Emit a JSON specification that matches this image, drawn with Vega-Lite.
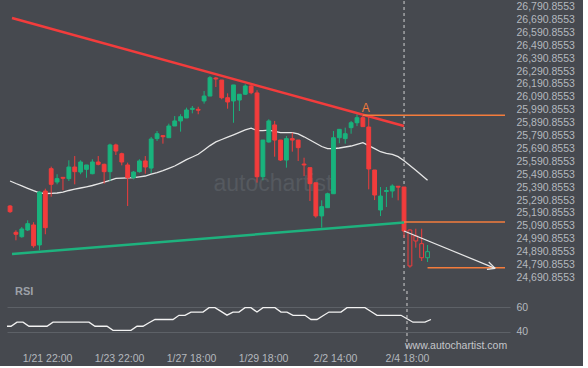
{
"$schema": "https://vega.github.io/schema/vega-lite/v6.json",
"background": "#46494f",
"padding": {"left": 7, "top": 0, "right": 8, "bottom": 2},
"spacing": 0,
"bounds": "flush",
"config": {"view": {"stroke": null}, "axis": {"labelFont": "Liberation Sans", "labelFontSize": 10.5, "labelColor": "#b4b8be", "domain": false, "ticks": false, "labelOverlap": false}},
"datasets": {
"candles": [
{"i":-1,"o":25245,"h":25253,"l":25191,"c":25201,"ma":25438.7,"rsi":44.4},
{"i":0,"o":25041,"h":25057,"l":24979,"c":25026,"ma":25419.3,"rsi":44.4},
{"i":1,"o":25007,"h":25082,"l":24999,"c":25067,"ma":25401.5,"rsi":47.7},
{"i":2,"o":25059,"h":25134,"l":25051,"c":25108,"ma":25382.1,"rsi":47.7},
{"i":3,"o":25098,"h":25119,"l":24922,"c":24937,"ma":25363.5,"rsi":44.4},
{"i":4,"o":24943,"h":25361,"l":24902,"c":25353,"ma":25346.5,"rsi":44.4},
{"i":5,"o":25361,"h":25379,"l":25026,"c":25077,"ma":25341.8,"rsi":44.4},
{"i":6,"o":25534,"h":25550,"l":25317,"c":25413,"ma":25342.6,"rsi":44.4},
{"i":7,"o":25431,"h":25491,"l":25413,"c":25457,"ma":25345.7,"rsi":47.7},
{"i":8,"o":25467,"h":25470,"l":25367,"c":25460,"ma":25351.9,"rsi":47.7},
{"i":9,"o":25457,"h":25599,"l":25439,"c":25547,"ma":25365.1,"rsi":47.7},
{"i":10,"o":25547,"h":25632,"l":25413,"c":25511,"ma":25375.1,"rsi":47.7},
{"i":11,"o":25508,"h":25599,"l":25491,"c":25586,"ma":25384.4,"rsi":47.7},
{"i":12,"o":25529,"h":25563,"l":25464,"c":25563,"ma":25393.7,"rsi":47.7},
{"i":13,"o":25495,"h":25607,"l":25491,"c":25586,"ma":25403.8,"rsi":47.7},
{"i":14,"o":25586,"h":25632,"l":25560,"c":25568,"ma":25416.2,"rsi":44.4},
{"i":15,"o":25568,"h":25573,"l":25418,"c":25511,"ma":25429.4,"rsi":44.4},
{"i":16,"o":25511,"h":25728,"l":25439,"c":25718,"ma":25444.1,"rsi":44.4},
{"i":17,"o":25718,"h":25728,"l":25640,"c":25671,"ma":25459.6,"rsi":41.1},
{"i":18,"o":25650,"h":25658,"l":25560,"c":25586,"ma":25461.1,"rsi":41.1},
{"i":19,"o":25563,"h":25581,"l":25245,"c":25464,"ma":25462.7,"rsi":41.1},
{"i":20,"o":25464,"h":25516,"l":25452,"c":25508,"ma":25465.0,"rsi":41.1},
{"i":21,"o":25511,"h":25607,"l":25503,"c":25594,"ma":25471.2,"rsi":44.4},
{"i":22,"o":25594,"h":25632,"l":25495,"c":25547,"ma":25477.4,"rsi":44.4},
{"i":23,"o":25539,"h":25780,"l":25501,"c":25764,"ma":25491.4,"rsi":47.2},
{"i":24,"o":25767,"h":25826,"l":25749,"c":25805,"ma":25504.5,"rsi":49.9},
{"i":25,"o":25790,"h":25795,"l":25728,"c":25782,"ma":25519.3,"rsi":49.9},
{"i":26,"o":25774,"h":25883,"l":25774,"c":25865,"ma":25537.1,"rsi":49.9},
{"i":27,"o":25865,"h":25942,"l":25865,"c":25904,"ma":25554.9,"rsi":49.9},
{"i":28,"o":25904,"h":25956,"l":25821,"c":25937,"ma":25578.9,"rsi":53.3},
{"i":29,"o":25927,"h":26007,"l":25927,"c":25989,"ma":25603.7,"rsi":53.3},
{"i":30,"o":25994,"h":26020,"l":25963,"c":26002,"ma":25624.7,"rsi":55.9},
{"i":31,"o":25994,"h":26014,"l":25956,"c":25987,"ma":25645.6,"rsi":55.9},
{"i":32,"o":26059,"h":26136,"l":26038,"c":26097,"ma":25678.9,"rsi":55.9},
{"i":33,"o":26097,"h":26252,"l":26097,"c":26239,"ma":25713.0,"rsi":59.5},
{"i":34,"o":26237,"h":26245,"l":26167,"c":26229,"ma":25741.7,"rsi":59.5},
{"i":35,"o":26221,"h":26221,"l":26072,"c":26084,"ma":25760.3,"rsi":56.5},
{"i":36,"o":26084,"h":26118,"l":25999,"c":26051,"ma":25778.1,"rsi":53.4},
{"i":37,"o":26059,"h":26183,"l":25890,"c":26183,"ma":25796.7,"rsi":55.9},
{"i":38,"o":26066,"h":26111,"l":25981,"c":26111,"ma":25816.1,"rsi":55.9},
{"i":39,"o":26111,"h":26188,"l":26105,"c":26175,"ma":25835.5,"rsi":59.5},
{"i":40,"o":26175,"h":26188,"l":26111,"c":26123,"ma":25848.6,"rsi":59.5},
{"i":41,"o":26121,"h":26142,"l":25426,"c":25472,"ma":25829.3,"rsi":55.9},
{"i":42,"o":25472,"h":25756,"l":25444,"c":25756,"ma":25829.3,"rsi":59.5},
{"i":43,"o":25741,"h":25917,"l":25736,"c":25904,"ma":25833.1,"rsi":59.5},
{"i":44,"o":25873,"h":25904,"l":25627,"c":25756,"ma":25823.1,"rsi":59.5},
{"i":45,"o":25756,"h":25756,"l":25594,"c":25601,"ma":25813.0,"rsi":55.9},
{"i":46,"o":25601,"h":25787,"l":25542,"c":25767,"ma":25813.0,"rsi":55.9},
{"i":47,"o":25767,"h":25813,"l":25666,"c":25756,"ma":25813.0,"rsi":53.3},
{"i":48,"o":25756,"h":25756,"l":25594,"c":25697,"ma":25804.4,"rsi":53.3},
{"i":49,"o":25570,"h":25619,"l":25477,"c":25563,"ma":25781.2,"rsi":53.3},
{"i":50,"o":25542,"h":25542,"l":25284,"c":25418,"ma":25756.4,"rsi":49.9},
{"i":51,"o":25425,"h":25425,"l":25154,"c":25168,"ma":25731.6,"rsi":49.9},
{"i":52,"o":25168,"h":25289,"l":25077,"c":25240,"ma":25706.1,"rsi":52.9},
{"i":53,"o":25232,"h":25348,"l":25232,"c":25340,"ma":25689.0,"rsi":55.9},
{"i":54,"o":25340,"h":25826,"l":25340,"c":25774,"ma":25689.0,"rsi":55.9},
{"i":55,"o":25774,"h":25839,"l":25731,"c":25839,"ma":25694.4,"rsi":55.9},
{"i":56,"o":25767,"h":25852,"l":25728,"c":25805,"ma":25702.2,"rsi":59.5},
{"i":57,"o":25852,"h":25904,"l":25805,"c":25890,"ma":25709.9,"rsi":59.5},
{"i":58,"o":25890,"h":25956,"l":25864,"c":25929,"ma":25723.1,"rsi":59.5},
{"i":59,"o":25929,"h":25956,"l":25860,"c":25860,"ma":25735.5,"rsi":59.5},
{"i":60,"o":25857,"h":25942,"l":25374,"c":25532,"ma":25712.2,"rsi":56.4},
{"i":61,"o":25524,"h":25524,"l":25291,"c":25330,"ma":25689.0,"rsi":53.3},
{"i":62,"o":25214,"h":25392,"l":25167,"c":25322,"ma":25665.7,"rsi":53.3},
{"i":63,"o":25357,"h":25392,"l":25237,"c":25365,"ma":25652.6,"rsi":53.3},
{"i":64,"o":25361,"h":25413,"l":25309,"c":25400,"ma":25644.8,"rsi":53.3},
{"i":65,"o":25398,"h":25400,"l":25289,"c":25391,"ma":25627.0,"rsi":53.3},
{"i":66,"o":25392,"h":25392,"l":24999,"c":25051,"ma":25595.2,"rsi":50.5},
{"i":67,"o":25059,"h":25064,"l":24767,"c":24780,"ma":25558.8,"rsi":47.7,"f":true},
{"i":68,"o":25013,"h":25069,"l":24922,"c":24974,"ma":25521.6,"rsi":47.7,"f":true},
{"i":69,"o":24953,"h":25069,"l":24819,"c":24844,"ma":25482.8,"rsi":47.7,"f":true},
{"i":70,"o":24844,"h":24943,"l":24811,"c":24891,"ma":25444.1,"rsi":49.9,"f":true}
],
"lines": [
{"name":"res","i":-0.667,"v":26701.7},{"name":"res","i":66,"v":25864.8},
{"name":"sup","i":-0.667,"v":24873},{"name":"sup","i":66,"v":25117},
{"name":"lvlA","i":59,"v":25947.8},{"name":"lvlA","i":83.17,"v":25947.8},
{"name":"lvlB","i":66,"v":25121},{"name":"lvlB","i":83.17,"v":25121},
{"name":"lvlC","i":70,"v":24767},{"name":"lvlC","i":83.17,"v":24767},
{"name":"proj","i":66,"v":25051},{"name":"proj","i":81.5,"v":24762},
{"name":"head1","i":80.4,"v":24811},{"name":"head1","i":81.5,"v":24762},
{"name":"head2","i":80.1,"v":24754},{"name":"head2","i":81.5,"v":24762}
]
},
"vconcat": [
{
"width": 503, "height": 290,
"layer": [
{"data": {"name": "candles"}, "mark": {"type": "line", "color": "#e6e6e6", "strokeWidth": 1.3, "clip": true},
 "encoding": {
   "x": {"field": "i", "type": "quantitative", "scale": {"domain": [-0.667, 83.17], "nice": false, "zero": false}, "axis": null},
   "y": {"field": "ma", "type": "quantitative", "scale": {"domain": [24586.3, 26833.5], "nice": false, "zero": false},
   "axis": {"orient": "right", "title": null, "labelPadding": 6, "labelOverlap": false, "labelFlush": false, "tickCount": 30, "grid": true, "gridOpacity": 0, "format": ",.4f", "values": [24690.8553,24790.8553,24890.8553,24990.8553,25090.8553,25190.8553,25290.8553,25390.8553,25490.8553,25590.8553,25690.8553,25790.8553,25890.8553,25990.8553,26090.8553,26190.8553,26290.8553,26390.8553,26490.8553,26590.8553,26690.8553,26790.8553]}}}},
{"data": {"values": [{}]}, "mark": {"type": "text", "text": "autochartist", "font": "Liberation Sans", "fontSize": 23, "color": "#55595f", "align": "center", "baseline": "alphabetic"},
 "encoding": {"x": {"datum": 43.7, "type": "quantitative", "scale": {"domain": [-0.667, 83.17], "nice": false, "zero": false}, "axis": null}, "y": {"datum": 25361, "type": "quantitative", "scale": {"domain": [24586.3, 26833.5], "nice": false, "zero": false}}}},
{"data": {"name": "candles"}, "transform": [{"filter": "datum.i == 66"}], "mark": {"type": "rule", "color": "#d0d0d0", "strokeDash": [3, 3], "strokeWidth": 1},
 "encoding": {"x": {"field": "i", "type": "quantitative", "scale": {"domain": [-0.667, 83.17], "nice": false, "zero": false}, "axis": null}}},
{"data": {"name": "candles"}, "mark": {"type": "rule", "strokeWidth": 1, "clip": true},
 "encoding": {"x": {"field": "i", "type": "quantitative", "scale": {"domain": [-0.667, 83.17], "nice": false, "zero": false}, "axis": null}, "y": {"field": "l", "type": "quantitative", "scale": {"domain": [24586.3, 26833.5], "nice": false, "zero": false}}, "y2": {"field": "h"},
   "color": {"condition": {"test": "datum.c >= datum.o", "value": "#19b37d"}, "value": "#f23c3c"}}},
{"data": {"name": "candles"}, "mark": {"type": "bar", "width": 3.8, "strokeWidth": 1, "clip": true},
 "encoding": {"x": {"field": "i", "type": "quantitative", "scale": {"domain": [-0.667, 83.17], "nice": false, "zero": false}, "axis": null}, "y": {"field": "o", "type": "quantitative", "scale": {"domain": [24586.3, 26833.5], "nice": false, "zero": false}}, "y2": {"field": "c"},
   "fill": {"condition": [{"test": "datum.f", "value": "#46494f"}, {"test": "datum.c >= datum.o", "value": "#19b37d"}], "value": "#f23c3c"},
   "stroke": {"condition": {"test": "datum.c >= datum.o", "value": "#19b37d"}, "value": "#f23c3c"}}},
{"data": {"name": "lines"}, "transform": [{"filter": "datum.name == 'res'"}], "mark": {"type": "line", "color": "#f23c3c", "strokeWidth": 2.5, "clip": true},
 "encoding": {"x": {"field": "i", "type": "quantitative", "scale": {"domain": [-0.667, 83.17], "nice": false, "zero": false}, "axis": null}, "y": {"field": "v", "type": "quantitative", "scale": {"domain": [24586.3, 26833.5], "nice": false, "zero": false}}}},
{"data": {"name": "lines"}, "transform": [{"filter": "datum.name == 'sup'"}], "mark": {"type": "line", "color": "#1eb27e", "strokeWidth": 2.5, "clip": true},
 "encoding": {"x": {"field": "i", "type": "quantitative", "scale": {"domain": [-0.667, 83.17], "nice": false, "zero": false}, "axis": null}, "y": {"field": "v", "type": "quantitative", "scale": {"domain": [24586.3, 26833.5], "nice": false, "zero": false}}}},
{"data": {"name": "lines"}, "transform": [{"filter": "indexof(['lvlA','lvlB','lvlC'], datum.name) >= 0"}], "mark": {"type": "line", "color": "#f47c3c", "strokeWidth": 1.5, "clip": true},
 "encoding": {"x": {"field": "i", "type": "quantitative", "scale": {"domain": [-0.667, 83.17], "nice": false, "zero": false}, "axis": null}, "y": {"field": "v", "type": "quantitative", "scale": {"domain": [24586.3, 26833.5], "nice": false, "zero": false}}, "detail": {"field": "name"}}},
{"data": {"name": "lines"}, "transform": [{"filter": "indexof(['proj','head1','head2'], datum.name) >= 0"}], "mark": {"type": "line", "color": "#e8e8e8", "strokeWidth": 1.2, "clip": true},
 "encoding": {"x": {"field": "i", "type": "quantitative", "scale": {"domain": [-0.667, 83.17], "nice": false, "zero": false}, "axis": null}, "y": {"field": "v", "type": "quantitative", "scale": {"domain": [24586.3, 26833.5], "nice": false, "zero": false}}, "detail": {"field": "name"}}},
{"data": {"name": "lines"}, "transform": [{"filter": "datum.name == 'lvlA' && datum.i == 59"}], "mark": {"type": "text", "text": "A", "font": "Liberation Sans", "fontSize": 12, "color": "#f07a3c", "align": "center", "baseline": "middle", "dx": 3, "dy": -7},
 "encoding": {"x": {"field": "i", "type": "quantitative", "scale": {"domain": [-0.667, 83.17], "nice": false, "zero": false}, "axis": null}, "y": {"field": "v", "type": "quantitative", "scale": {"domain": [24586.3, 26833.5], "nice": false, "zero": false}}}}
]
},
{
"width": 503, "height": 60,
"layer": [
{"data": {"name": "candles"}, "mark": {"type": "line", "color": "#f2f2f2", "strokeWidth": 1.3, "clip": true},
 "encoding": {
   "x": {"field": "i", "type": "quantitative", "scale": {"domain": [-0.667, 83.17], "nice": false, "zero": false},
     "axis": {"title": null, "values": [6, 18, 30, 42, 54, 66], "grid": true, "gridOpacity": 0, "labelPadding": 2, "labelFlush": false, "labelOverlap": false,
       "labelExpr": "datum.value == 6 ? '1/21 22:00' : datum.value == 18 ? '1/23 22:00' : datum.value == 30 ? '1/27 18:00' : datum.value == 42 ? '1/29 18:00' : datum.value == 54 ? '2/2 14:00' : '2/4 18:00'"}},
   "y": {"field": "rsi", "type": "quantitative", "scale": {"domain": [24.37, 72.96], "nice": false, "zero": false},
   "axis": {"orient": "right", "title": null, "values": [40, 60], "grid": true, "gridColor": "#5d6167", "gridWidth": 1, "labelPadding": 6}}}},
{"data": {"name": "candles"}, "transform": [{"filter": "datum.i == 66"}], "mark": {"type": "rule", "color": "#d0d0d0", "strokeDash": [3, 3], "strokeWidth": 1},
 "encoding": {"x": {"field": "i", "type": "quantitative", "scale": {"domain": [-0.667, 83.17], "nice": false, "zero": false}}}},
{"data": {"values": [{}]}, "mark": {"type": "text", "text": "RSI", "font": "Liberation Sans", "fontSize": 11, "fontWeight": "bold", "color": "#9da1a8", "align": "left", "baseline": "middle"},
 "encoding": {"x": {"datum": 0.67, "type": "quantitative", "scale": {"domain": [-0.667, 83.17], "nice": false, "zero": false}}, "y": {"datum": 72.1, "type": "quantitative", "scale": {"domain": [24.37, 72.96], "nice": false, "zero": false}}}},
{"data": {"values": [{}]}, "mark": {"type": "text", "text": "www.autochartist.com", "font": "Liberation Sans", "fontSize": 10.5, "color": "#c4c6ca", "align": "left", "baseline": "middle"},
 "encoding": {"x": {"datum": 65.67, "type": "quantitative", "scale": {"domain": [-0.667, 83.17], "nice": false, "zero": false}}, "y": {"datum": 28.4, "type": "quantitative", "scale": {"domain": [24.37, 72.96], "nice": false, "zero": false}}}}
]
}
]
}
